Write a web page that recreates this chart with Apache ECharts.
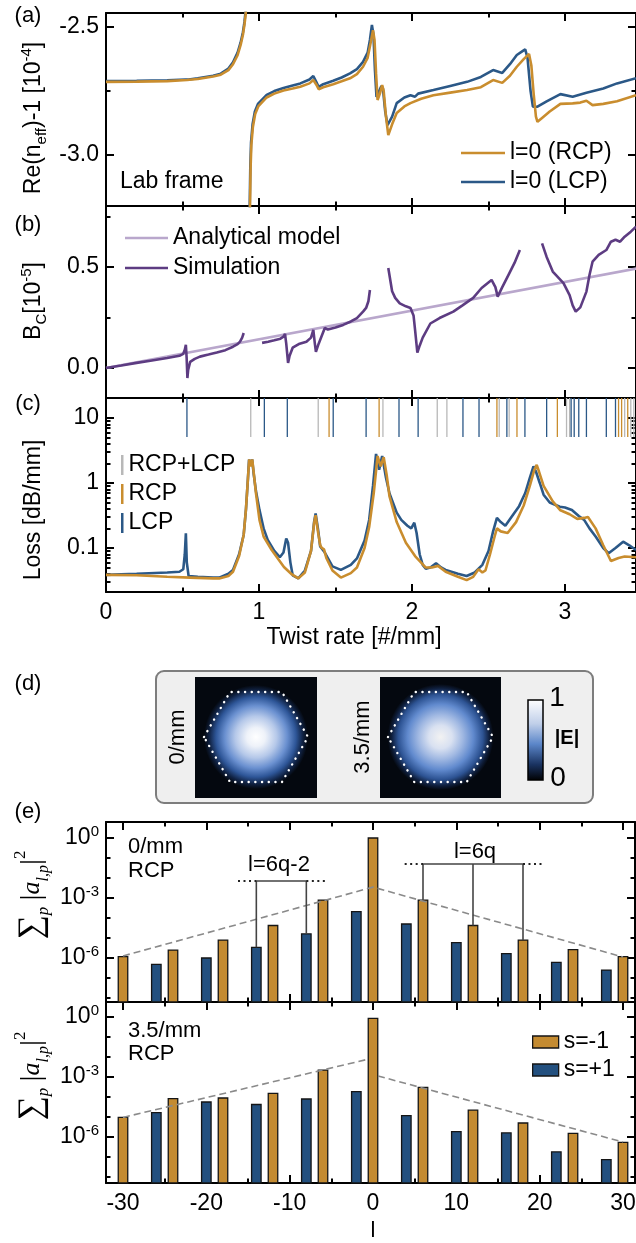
<!DOCTYPE html>
<html><head><meta charset="utf-8">
<script src="https://cdn.jsdelivr.net/npm/echarts@6/dist/echarts.min.js"></script>
<style>html,body{margin:0;padding:0;background:#fff}#c{width:636px;height:1243px}</style>
</head><body><div id="c"></div><script>
// ---------------- DATA ----------------
// Panel (a): Re(n_eff)-1 [1e-4] vs twist rate
const twistA_R = [0,0.2,0.4,0.53,0.6,0.7,0.75,0.8,0.83,0.86,0.88,0.895,0.905,0.913,0.92,0.925,0.93,0.935,0.94,0.945,0.95,0.96,0.975,0.995,1.05,1.1,1.16,1.22,1.27,1.33,1.355,1.375,1.39,1.42,1.485,1.54,1.595,1.64,1.68,1.71,1.73,1.745,1.755,1.765,1.775,1.79,1.805,1.815,1.83,1.845,1.87,1.9,1.95,1.99,2.06,2.14,2.25,2.36,2.45,2.53,2.59,2.64,2.685,2.73,2.765,2.78,2.795,2.81,2.82,2.85,2.9,2.97,3.05,3.1,3.14,3.18,3.25,3.34,3.464];
const neffR = [-2.714,-2.713,-2.711,-2.707,-2.703,-2.693,-2.686,-2.668,-2.645,-2.61,-2.57,-2.53,-2.49,-2.45,-2.38,-2.2,null,-3.6,-3.25,-3.05,-2.96,-2.89,-2.84,-2.81,-2.775,-2.76,-2.748,-2.74,-2.733,-2.72,-2.707,-2.725,-2.743,-2.735,-2.723,-2.712,-2.70,-2.684,-2.655,-2.62,-2.56,-2.512,-2.55,-2.68,-2.785,-2.76,-2.727,-2.75,-2.85,-2.922,-2.88,-2.836,-2.81,-2.797,-2.78,-2.766,-2.756,-2.746,-2.735,-2.707,-2.718,-2.69,-2.655,-2.625,-2.605,-2.65,-2.76,-2.85,-2.87,-2.855,-2.83,-2.80,-2.798,-2.795,-2.788,-2.805,-2.80,-2.79,-2.766];
const twistA_L = [0,0.2,0.4,0.52,0.53,0.54,0.6,0.7,0.75,0.8,0.83,0.86,0.88,0.895,0.905,0.912,0.918,0.923,0.928,0.933,0.938,0.943,0.948,0.958,0.973,0.993,1.05,1.1,1.16,1.22,1.27,1.33,1.355,1.375,1.39,1.42,1.485,1.54,1.595,1.64,1.68,1.71,1.725,1.738,1.748,1.758,1.768,1.785,1.80,1.81,1.825,1.84,1.87,1.9,1.95,1.99,2.02,2.04,2.14,2.25,2.36,2.45,2.53,2.59,2.64,2.685,2.72,2.74,2.755,2.775,2.79,2.82,2.88,2.97,3.05,3.14,3.25,3.34,3.464];
const neffL = [-2.711,-2.710,-2.708,-2.705,-2.700,-2.705,-2.700,-2.690,-2.682,-2.662,-2.638,-2.60,-2.56,-2.52,-2.48,-2.44,-2.37,-2.2,null,-3.6,-3.25,-3.05,-2.95,-2.88,-2.83,-2.80,-2.765,-2.75,-2.738,-2.728,-2.72,-2.705,-2.691,-2.715,-2.734,-2.723,-2.71,-2.697,-2.681,-2.664,-2.636,-2.60,-2.55,-2.492,-2.53,-2.67,-2.773,-2.75,-2.73,-2.74,-2.83,-2.883,-2.85,-2.797,-2.775,-2.766,-2.772,-2.76,-2.746,-2.73,-2.714,-2.695,-2.668,-2.679,-2.645,-2.609,-2.595,-2.587,-2.62,-2.75,-2.811,-2.811,-2.79,-2.762,-2.772,-2.757,-2.74,-2.72,-2.70];

// Panel (b): B_C [1e-5]
const analyticT = [0, 3.5];
const analyticB = [0, 0.497];
const simT = [0,0.1,0.2,0.3,0.4,0.48,0.505,0.515,0.522,0.527,0.532,0.537,0.55,0.58,0.614,0.67,0.724,0.78,0.83,0.86,0.876,0.89,0.9,0.96,1.02,1.06,1.1,1.14,1.16,1.17,1.178,1.19,1.2,1.22,1.26,1.31,1.34,1.355,1.365,1.372,1.39,1.43,1.45,1.5,1.55,1.6,1.64,1.68,1.7,1.715,1.725,1.78,1.845,1.87,1.89,1.92,1.96,1.99,2.01,2.02,2.035,2.05,2.07,2.12,2.18,2.27,2.33,2.4,2.455,2.52,2.545,2.56,2.59,2.63,2.67,2.705,2.78,2.85,2.88,2.92,2.99,3.03,3.05,3.07,3.1,3.14,3.16,3.18,3.22,3.27,3.3,3.33,3.36,3.39,3.43,3.464];
const simB = [0,0.012,0.025,0.037,0.049,0.06,0.07,0.09,0.114,0.05,-0.05,-0.01,0.03,0.045,0.056,0.066,0.076,0.088,0.105,0.118,0.13,0.15,0.173,null,0.124,0.13,0.137,0.145,0.155,0.168,0.12,0.025,0.06,0.1,0.118,0.13,0.15,0.188,0.12,0.08,0.12,0.198,0.19,0.2,0.213,0.23,0.247,0.279,0.297,0.33,0.386,null,0.495,0.38,0.347,0.32,0.305,0.297,0.26,0.188,0.076,0.11,0.15,0.22,0.247,0.279,0.31,0.347,0.396,0.436,0.40,0.353,0.40,0.46,0.52,0.584,null,0.617,0.55,0.477,0.42,0.361,0.31,0.279,0.3,0.378,0.46,0.526,0.56,0.584,0.625,0.635,0.625,0.65,0.675,0.70];

// Panel (c): loss [dB/mm]
const lossT_L = [0,0.2,0.4,0.48,0.505,0.515,0.522,0.528,0.54,0.6,0.7,0.74,0.8,0.83,0.87,0.9,0.915,0.928,0.935,0.945,0.955,0.965,0.98,1.003,1.03,1.057,1.1,1.136,1.16,1.178,1.19,1.205,1.22,1.257,1.3,1.34,1.36,1.37,1.385,1.4,1.43,1.48,1.535,1.6,1.64,1.69,1.72,1.745,1.765,1.785,1.805,1.83,1.853,1.9,1.93,1.97,1.995,2.015,2.03,2.05,2.07,2.09,2.12,2.157,2.19,2.22,2.3,2.357,2.41,2.46,2.5,2.53,2.555,2.58,2.61,2.65,2.7,2.74,2.77,2.794,2.81,2.835,2.86,2.9,2.966,3.0,3.045,3.09,3.125,3.16,3.2,3.25,3.285,3.33,3.38,3.42,3.464];
const lossL = [0.0385,0.040,0.042,0.043,0.047,0.08,0.168,0.06,0.037,0.036,0.035,0.035,0.040,0.046,0.08,0.16,0.4,1.2,2.3,1.85,2.3,1.4,0.75,0.385,0.2,0.133,0.09,0.072,0.085,0.14,0.12,0.06,0.038,0.034,0.045,0.09,0.25,0.34,0.2,0.105,0.085,0.052,0.046,0.055,0.069,0.13,0.27,0.9,2.8,1.6,2.6,1.2,0.69,0.35,0.27,0.22,0.2,0.245,0.17,0.08,0.055,0.048,0.05,0.058,0.05,0.046,0.04,0.037,0.042,0.055,0.09,0.18,0.29,0.25,0.22,0.3,0.44,0.7,1.2,1.8,1.5,1.0,0.66,0.5,0.43,0.42,0.385,0.31,0.27,0.2,0.15,0.1,0.083,0.1,0.125,0.11,0.093];
const lossT_R = [0,0.2,0.4,0.55,0.7,0.74,0.8,0.83,0.87,0.9,0.915,0.928,0.936,0.946,0.956,0.966,0.98,1.003,1.03,1.083,1.163,1.21,1.257,1.3,1.34,1.36,1.37,1.385,1.4,1.41,1.425,1.44,1.48,1.535,1.6,1.64,1.69,1.72,1.75,1.775,1.795,1.815,1.835,1.853,1.9,1.96,2.02,2.09,2.13,2.17,2.22,2.3,2.357,2.4,2.435,2.46,2.48,2.51,2.54,2.555,2.58,2.625,2.68,2.73,2.77,2.8,2.815,2.83,2.86,2.92,2.97,3.03,3.08,3.125,3.15,3.2,3.25,3.3,3.35,3.39,3.464];
const lossR = [0.0385,0.038,0.036,0.035,0.034,0.034,0.037,0.043,0.075,0.16,0.4,1.2,2.3,1.8,2.3,1.4,0.7,0.27,0.15,0.093,0.051,0.04,0.034,0.042,0.09,0.24,0.32,0.18,0.11,0.1,0.095,0.07,0.045,0.035,0.041,0.05,0.1,0.21,0.7,2.6,1.8,2.5,1.3,0.62,0.25,0.12,0.075,0.05,0.05,0.053,0.043,0.036,0.032,0.036,0.047,0.042,0.045,0.08,0.15,0.2,0.18,0.17,0.25,0.45,0.9,1.6,1.9,1.5,0.9,0.52,0.38,0.33,0.28,0.29,0.3,0.2,0.11,0.063,0.07,0.074,0.072];
// resonance markers (twist rates)
const resBoth = [0.946,1.387,1.81,2.165,2.228,2.57,2.635,3.01,3.03,3.39,3.43,3.45];
const resRCP  = [1.458,1.785,2.555,2.686,2.95,3.35,3.37,3.41];
const resLCP  = [0.529,1.035,1.185,1.485,1.70,1.915,2.04,2.333,2.438,2.62,2.738,2.88,3.04,3.06,3.09,3.14,3.27,3.33];

// Panel (e): OAM spectra
const lOrange = [-30,-24,-18,-12,-6,0,6,12,18,24,30];
const lBlue   = [-26,-20,-14,-8,-2,4,10,16,22,28];
const amp0_sm1  = [1.17e-6,2.5e-6,7.9e-6,4.2e-5,7.9e-4,1.0,7.9e-4,4.2e-5,7.9e-6,2.6e-6,1.17e-6];
const amp0_sp1  = [4.8e-7,1.0e-6,3.4e-6,1.6e-5,2.1e-4,5.0e-5,5.9e-6,1.66e-6,6.0e-7,2.5e-7];
const amp35_sm1 = [9.5e-6,8.3e-5,8.9e-5,1.5e-4,2.2e-3,0.85,3.0e-4,2.2e-5,5.0e-6,1.5e-6,5.4e-7];
const amp35_sp1 = [1.66e-5,5.6e-5,4.2e-5,7.9e-5,1.86e-4,1.17e-5,1.86e-6,1.6e-6,1.8e-7,7.4e-8];
const env0_l  = [-30, 0, 30];
const env0_v  = [1.26e-6, 3.5e-3, 1.12e-6];
const env35L_l = [-30, -0.5];
const env35L_v = [9.5e-6, 7.9e-3];
const env35R_l = [0.6, 30];
const env35R_v = [1.12e-3, 5.6e-7];
const br62_l = [-14,-14,-8,-8];
const br62_v = [3.4e-6,7.1e-3,7.1e-3,1.6e-5];
const br62dot_l = [-16.2,-14,null,-8,-5.6];
const br62dot_v = [7.1e-3,7.1e-3,null,7.1e-3,7.1e-3];
const br6_l = [6,6,18,18,null,12,12];
const br6_v = [7.9e-4,5.0e-2,5.0e-2,7.9e-6,null,5.0e-2,4.2e-5];
const br6dot_l = [3.8,6,null,18,20.6];
const br6dot_v = [5.0e-2,5.0e-2,null,5.0e-2,5.0e-2];

// ---------------- STYLE ----------------
const FONT = "'Liberation Sans', Arial, Helvetica, sans-serif";
const SERIF = "'Liberation Serif', 'DejaVu Serif', serif";
const ORANGE = '#C98D2E', BLUE = '#2B5887', BAR_OR = '#C48B31', BAR_BL = '#23507F';
const PURPLE = '#5D3C82', LILAC = '#B9A7CC', GRAY = '#B8B8B8';
const A_MIN=-3.199, A_MAX=-2.445, B_MIN=-0.149, B_MAX=0.802, C_MIN=0.021, C_MAX=20.3, T_MAX=3.464;
const E_XMIN=-32.04, E_XMAX=31.44, E1_MIN=6.3e-9, E1_MAX=6.3, E2_MIN=5.0e-9, E2_MAX=5.6;
const MARK_LOW = 5.1;

const grids = [
  {left:106, top:13, width:530, height:193},
  {left:106, top:206, width:530, height:192},
  {left:106, top:398, width:530, height:194},
  {left:106, top:822, width:529, height:180},
  {left:106, top:1002, width:529, height:181}
].map(g => Object.assign({show:false, outerBoundsMode:'none', containLabel:false}, g));

const xAxes = [], yAxes = [];
const supRich = { sup: { fontSize: 15, verticalAlign: 'top', lineHeight: 13, fontFamily: FONT, color: '#000' } };
function mkAxes(list, grid, sides, type, min, max, majors, minors, labelVals, fmt) {
  let primary = null;
  sides.forEach((pos, si) => {
    const base = { gridIndex: grid, type, min, max, position: pos, silent: true,
      splitLine: {show:false}, minorTick: {show:false}, minorSplitLine: {show:false} };
    const withLabel = si === 0 && labelVals;
    list.push(Object.assign({}, base, {
      axisLine: { show: true, onZero: false, lineStyle: { color: '#000', width: 2 } },
      axisTick: { show: true, inside: true, length: 8, customValues: majors, lineStyle: { color: '#000', width: 2 } },
      axisLabel: withLabel ? { show: true, customValues: labelVals, formatter: fmt, margin: 7, fontSize: 23,
        fontFamily: FONT, color: '#000', lineHeight: 28, rich: supRich } : { show: false }
    }));
    if (si === 0) primary = list.length - 1;
    if (minors) list.push(Object.assign({}, base, {
      axisLine: { show: false, onZero: false },
      axisTick: { show: true, inside: true, length: 4.5, customValues: minors, lineStyle: { color: '#000', width: 2 } },
      axisLabel: { show: false }
    }));
  });
  return primary;
}
const XS = ['bottom','top'], YS = ['left','right'];
const tMaj = [0,1,2,3], tMin = [0.5,1.5,2.5];
const ax = {};
ax.a = { x: mkAxes(xAxes,0,XS,'value',0,T_MAX,tMaj,tMin,null),
         y: mkAxes(yAxes,0,YS,'value',A_MIN,A_MAX,[-3,-2.5],[-2.75],[-3,-2.5],v=>v.toFixed(1)) };
ax.b = { x: mkAxes(xAxes,1,XS,'value',0,T_MAX,tMaj,tMin,null),
         y: mkAxes(yAxes,1,YS,'value',B_MIN,B_MAX,[0,0.5],[0.25,0.75],[0,0.5],v=>v.toFixed(1)) };
const cMinor = [0.03,0.04,0.05,0.06,0.07,0.08,0.09,0.2,0.3,0.4,0.5,0.6,0.7,0.8,0.9,2,3,4,5,6,7,8,9];
ax.c = { x: mkAxes(xAxes,2,XS,'value',0,T_MAX,tMaj,tMin,tMaj,v=>String(v)),
         y: mkAxes(yAxes,2,YS,'log',C_MIN,C_MAX,[0.1,1,10],cMinor,[0.1,1,10],v=>String(v)) };
const lMaj = [-30,-20,-10,0,10,20,30], lMin = [-25,-15,-5,5,15,25];
const expFmt = v => '10{sup|' + Math.round(Math.log10(v)) + '}';
ax.e1 = { x: mkAxes(xAxes,3,XS,'value',E_XMIN,E_XMAX,lMaj,lMin,null),
          y: mkAxes(yAxes,3,YS,'log',E1_MIN,E1_MAX,[1,1e-3,1e-6],[1e-8,1e-7,1e-5,1e-4,1e-2,1e-1],[1,1e-3,1e-6],expFmt) };
ax.e2 = { x: mkAxes(xAxes,4,XS,'value',E_XMIN,E_XMAX,lMaj,lMin,lMaj,v=>String(v)),
          y: mkAxes(yAxes,4,YS,'log',E2_MIN,E2_MAX,[1,1e-3,1e-6],[1e-8,1e-7,1e-5,1e-4,1e-2,1e-1],[1,1e-3,1e-6],expFmt) };

const pair = (xs, ys) => xs.map((x, i) => (x === null || ys[i] === null) ? [x === null ? '-' : x, '-'] : [x, ys[i]]);
function line(name, p, xs, ys, color, width, extra) {
  return Object.assign({ type: 'line', name, xAxisIndex: p.x, yAxisIndex: p.y, data: pair(xs, ys),
    symbol: 'none', showSymbol: false, connectNulls: false, clip: true, silent: true, animation: false,
    lineStyle: { color, width }, itemStyle: { color } }, extra || {});
}
function markers(name, xs, color) {
  return { type: 'custom', name, xAxisIndex: ax.c.x, yAxisIndex: ax.c.y, silent: true, clip: true,
    data: xs.map(x => [x, MARK_LOW]), itemStyle: { color },
    renderItem: (params, api) => {
      const a = api.coord([api.value(0), api.value(1)]);
      const b = api.coord([api.value(0), C_MAX]);
      return { type: 'line', shape: { x1: a[0], y1: a[1], x2: b[0], y2: b[1] }, style: { stroke: color, lineWidth: 1.3 } };
    } };
}
function bars(name, p, xs, vals, color, ymin) {
  return { type: 'custom', name, xAxisIndex: p.x, yAxisIndex: p.y, silent: true, z: 3,
    data: xs.map((x, i) => [x, vals[i]]), itemStyle: { color },
    renderItem: (params, api) => {
      const t = api.coord([api.value(0), api.value(1)]);
      const b = api.coord([api.value(0), ymin]);
      const w = 9.5;
      return { type: 'rect', shape: { x: t[0] - w / 2, y: t[1], width: w, height: b[1] - t[1] },
        style: { fill: color, stroke: '#151515', lineWidth: 1.3 } };
    } };
}
const dash = { lineStyle: { color: '#8a8a8a', width: 1.6, type: [7, 4] }, z: 4 };
const brk = { lineStyle: { color: '#444', width: 1.6 }, z: 5 };
const dot = { lineStyle: { color: '#222', width: 2, type: [2, 3.5] }, z: 5 };

const series = [
  line('l=0 (LCP)', ax.a, twistA_L, neffL, BLUE, 2.6),
  line('l=0 (RCP)', ax.a, twistA_R, neffR, ORANGE, 2.6),
  line('Analytical model', ax.b, analyticT, analyticB, LILAC, 2.6),
  line('Simulation', ax.b, simT, simB, PURPLE, 2.6),
  markers('RCP+LCP', resBoth, GRAY),
  markers('RCP', resRCP, ORANGE),
  markers('LCP', resLCP, BLUE),
  line('Loss LCP', ax.c, lossT_L, lossL, BLUE, 2.6),
  line('Loss RCP', ax.c, lossT_R, lossR, ORANGE, 2.6),
  bars('s=-1', ax.e1, lOrange, amp0_sm1, BAR_OR, E1_MIN),
  bars('s=+1', ax.e1, lBlue, amp0_sp1, BAR_BL, E1_MIN),
  line('env0', ax.e1, env0_l, env0_v, '#8a8a8a', 1.6, dash),
  line('br62', ax.e1, br62_l, br62_v, '#444', 1.6, brk),
  line('br62dot', ax.e1, br62dot_l, br62dot_v, '#222', 2, dot),
  line('br6', ax.e1, br6_l, br6_v, '#444', 1.6, brk),
  line('br6dot', ax.e1, br6dot_l, br6dot_v, '#222', 2, dot),
  bars('s=-1', ax.e2, lOrange, amp35_sm1, BAR_OR, E2_MIN),
  bars('s=+1', ax.e2, lBlue, amp35_sp1, BAR_BL, E2_MIN),
  line('env35L', ax.e2, env35L_l, env35L_v, '#8a8a8a', 1.6, dash),
  line('env35R', ax.e2, env35R_l, env35R_v, '#8a8a8a', 1.6, dash)
];

const legTxt = { fontSize: 23, fontFamily: FONT, color: '#000', lineHeight: 26 };
const legend = [
  { left: 461, top: 140, orient: 'vertical', icon: 'rect', itemWidth: 44, itemHeight: 2.6, itemGap: 3, selectedMode: false,
    data: ['l=0 (RCP)', 'l=0 (LCP)'], textStyle: legTxt, padding: 0 },
  { left: 125, top: 225, orient: 'vertical', icon: 'rect', itemWidth: 43, itemHeight: 2.6, itemGap: 4, selectedMode: false,
    data: ['Analytical model', 'Simulation'], textStyle: legTxt, padding: 0 },
  { left: 121, top: 452, orient: 'vertical', icon: 'rect', itemWidth: 2.5, itemHeight: 20, itemGap: 3, selectedMode: false,
    data: ['RCP+LCP', 'RCP', 'LCP'], textStyle: legTxt, padding: 0 },
  { left: 532, top: 1029, orient: 'vertical', icon: 'rect', itemWidth: 26, itemHeight: 12, itemGap: 2, selectedMode: false,
    data: ['s=-1', 's=+1'], textStyle: legTxt, padding: 0, itemStyle: { borderColor: '#151515', borderWidth: 1.3 } }
];

// ---------------- GRAPHICS (labels & panel d) ----------------
const subsup = {
  sub: { fontSize: 15, verticalAlign: 'bottom', lineHeight: 14, fontFamily: FONT, fill: '#000' },
  sup: { fontSize: 15, verticalAlign: 'top', lineHeight: 14, fontFamily: FONT, fill: '#000' }
};
function txt(x, y, text, o) {
  o = o || {};
  return { type: 'text', x, y, rotation: o.rot || 0, z: 50, silent: true,
    style: { text, fontSize: o.size || 23, fontFamily: o.family || FONT, fontWeight: o.weight || 'normal',
      fill: o.fill || '#000', align: o.align || 'center', verticalAlign: 'middle', lineHeight: o.lh || 30, rich: o.rich || subsup } };
}
const sigRich = {
  sg: { fontSize: 34, fontFamily: SERIF, lineHeight: 40, fill: '#000' },
  p: { fontSize: 17, fontStyle: 'italic', fontFamily: SERIF, verticalAlign: 'bottom', lineHeight: 16, fill: '#000' },
  br: { fontSize: 30, fontFamily: SERIF, lineHeight: 40, fill: '#000' },
  a: { fontSize: 26, fontStyle: 'italic', fontFamily: SERIF, lineHeight: 40, fill: '#000' },
  lp: { fontSize: 16, fontStyle: 'italic', fontFamily: SERIF, verticalAlign: 'bottom', lineHeight: 18, fill: '#000' },
  two: { fontSize: 17, fontFamily: SERIF, verticalAlign: 'top', lineHeight: 16, fill: '#000' }
};
const sigText = '{sg|∑}{p|p} {br||}{a|a}{lp|l,p}{br||}{two|2}';
const R90 = Math.PI / 2;

function hexPts(cx, cy, w, h) {
  return [[cx - w, cy], [cx - w / 2, cy - h], [cx + w / 2, cy - h], [cx + w, cy], [cx + w / 2, cy + h], [cx - w / 2, cy + h]];
}
function blob(cx, cy, r, stops) {
  return { type: 'circle', shape: { cx, cy, r }, silent: true, z: 20,
    style: { fill: new echarts.graphic.RadialGradient(0.5, 0.5, 0.5, stops) } };
}
const stops1 = [{offset:0,color:'#ffffff'},{offset:0.18,color:'#eef2f9'},{offset:0.4,color:'#b5c8e9'},{offset:0.6,color:'#6a90d0'},
  {offset:0.77,color:'#2e5698'},{offset:0.9,color:'#102243'},{offset:1,color:'#04080f'}];
const stops2 = [{offset:0,color:'#f2f2f2'},{offset:0.22,color:'#d9e1f1'},{offset:0.42,color:'#a0b8e2'},{offset:0.62,color:'#618ace'},
  {offset:0.8,color:'#2d5393'},{offset:0.92,color:'#0f1f3d'},{offset:1,color:'#04080f'}];
const hexStyle = { fill: null, stroke: '#ffffff', lineWidth: 2.4, lineDash: [0.1, 6.6], lineCap: 'round' };

const graphic = [
  txt(28, 16, '(a)', { size: 22 }), txt(28, 225, '(b)', { size: 22 }), txt(28, 404, '(c)', { size: 22 }),
  txt(28, 684, '(d)', { size: 22 }), txt(28, 812, '(e)', { size: 22 }),
  txt(34, 118, 'Re(n{sub|eff})-1 [10{sup|-4}]', { rot: R90 }),
  txt(34, 301, 'B{sub|C}[10{sup|-5}]', { rot: R90 }),
  txt(34, 510, 'Loss [dB/mm]', { rot: R90 }),
  txt(354, 638, 'Twist rate [#/mm]'),
  txt(120, 182, 'Lab frame', { align: 'left' }),
  txt(32, 895, sigText, { rot: R90, rich: sigRich, lh: 40 }),
  txt(32, 1076, sigText, { rot: R90, rich: sigRich, lh: 40 }),
  txt(128, 847, '0/mm', { align: 'left', size: 22 }), txt(128, 871, 'RCP', { align: 'left', size: 22 }),
  txt(128, 1031, '3.5/mm', { align: 'left', size: 22 }), txt(128, 1054, 'RCP', { align: 'left', size: 22 }),
  txt(279, 865, 'l=6q-2', { size: 22 }), txt(475, 852, 'l=6q', { size: 22 }),
  txt(373, 1231, 'l', { size: 22 }),
  // panel (d)
  { type: 'rect', shape: { x: 156, y: 671, width: 437, height: 132, r: 8 }, silent: true, z: 10,
    style: { fill: '#efefef', stroke: '#7d7d7d', lineWidth: 2 } },
  { type: 'rect', shape: { x: 195, y: 677, width: 122, height: 121 }, silent: true, z: 15, style: { fill: '#04080f' } },
  { type: 'rect', shape: { x: 380, y: 677, width: 121, height: 121 }, silent: true, z: 15, style: { fill: '#04080f' } },
  blob(256, 737, 52, stops1),
  blob(440.5, 737, 53, stops2),
  { type: 'polygon', shape: { points: hexPts(256, 737, 52, 45) }, silent: true, z: 25, style: hexStyle },
  { type: 'polygon', shape: { points: hexPts(440.5, 737, 52.5, 45) }, silent: true, z: 25, style: hexStyle },
  txt(178, 737, '0/mm', { rot: R90, size: 22 }),
  txt(363, 737, '3.5/mm', { rot: R90, size: 22 }),
  { type: 'rect', shape: { x: 528, y: 700, width: 15, height: 80 }, silent: true, z: 20,
    style: { stroke: '#000', lineWidth: 1.5,
      fill: new echarts.graphic.LinearGradient(0, 0, 0, 1, [{offset:0,color:'#ffffff'},{offset:0.3,color:'#c0cfe9'},
        {offset:0.55,color:'#5b86c9'},{offset:0.8,color:'#1a3361'},{offset:1,color:'#000000'}]) } },
  txt(557, 698, '1', { size: 28 }),
  txt(558, 778, '0', { size: 28 }),
  txt(567, 738, '|E|', { size: 20, weight: 'bold' })
];

const chart = echarts.init(document.getElementById('c'), null, { renderer: 'canvas', width: 636, height: 1243 });
chart.setOption({
  animation: false, backgroundColor: '#fff',
  textStyle: { fontFamily: FONT },
  grid: grids, xAxis: xAxes, yAxis: yAxes, series, legend, graphic
});
</script></body></html>
